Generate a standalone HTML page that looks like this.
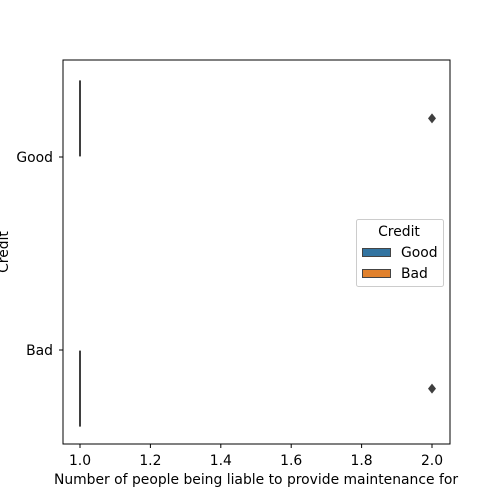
<!DOCTYPE html>
<html><head><meta charset="utf-8"><style>
html,body{margin:0;background:#fff;width:500px;height:500px;overflow:hidden;}
svg{display:block;}
svg text{font-family:"DejaVu Sans","Liberation Sans",sans-serif;font-size:13.9px;fill:#000;}
</style></head><body>
<svg width="500" height="500">
<g id="plot"></g>
<rect x="63" y="60" width="387" height="384" fill="none" stroke="#000" stroke-width="1"/>
<g id="xt"></g>
<g id="yt"></g>
<text x="256" y="484" text-anchor="middle">Number of people being liable to provide maintenance for</text>
<text transform="translate(8,252) rotate(-90)" text-anchor="middle">Credit</text>
<g>
<rect x="356.5" y="219.5" width="87" height="67" rx="2" fill="#fff" stroke="#ccc"/>
<text x="399" y="236" text-anchor="middle">Credit</text>
<rect x="362.5" y="248.5" width="28" height="8" fill="#3274a1" stroke="#444"/>
<text x="401" y="257">Good</text>
<rect x="362.5" y="269.5" width="28" height="8" fill="#e1812c" stroke="#444"/>
<text x="401" y="278">Bad</text>
</g>
</svg>
<script>
const categories=["Good","Bad"];
const hueOffsets=[-0.2,0.2];
const whiskerLow=[1,1];
const whiskerHigh=[1,1];
const outliers=[[2],[2]];
const xTicks=[1.0,1.2,1.4,1.6,1.8,2.0];
const xTickLabels=["1.0","1.2","1.4","1.6","1.8","2.0"];
const NS="http://www.w3.org/2000/svg";
function X(v){return 80+(v-1)*352;}
function Y(i){return 157+i*193;}
function mk(t,a,p){const e=document.createElementNS(NS,t);for(const k in a)e.setAttribute(k,a[k]);p.appendChild(e);return e;}
const plot=document.getElementById('plot');
categories.forEach((c,i)=>{
  const cy=Y(i+hueOffsets[i]);
  const l=mk('line',{x1:X(whiskerLow[i]),x2:X(whiskerHigh[i]),y1:cy-38,y2:cy+38,stroke:'#3f3f3f','stroke-width':2},plot);
  
  
  outliers[i].forEach(o=>{
    const d=mk('path',{d:`M${X(o)},${cy-5}L${X(o)+4},${cy}L${X(o)},${cy+5}L${X(o)-4},${cy}Z`,fill:'#3f3f3f'},plot);
    
    
  });
});
const xt=document.getElementById('xt');
xTicks.forEach((v,i)=>{
  mk('line',{x1:X(v),x2:X(v),y1:444,y2:448,stroke:'#000'},xt);
  const t=mk('text',{x:X(v),y:465,'text-anchor':'middle'},xt);t.textContent=xTickLabels[i];
  
  
});
const yt=document.getElementById('yt');
categories.forEach((c,i)=>{
  mk('line',{x1:59,x2:63,y1:Y(i),y2:Y(i),stroke:'#000'},yt);
  const t=mk('text',{x:53,y:Y(i)+5,'text-anchor':'end'},yt);t.textContent=c;
  
  
});
</script>
</body></html>
